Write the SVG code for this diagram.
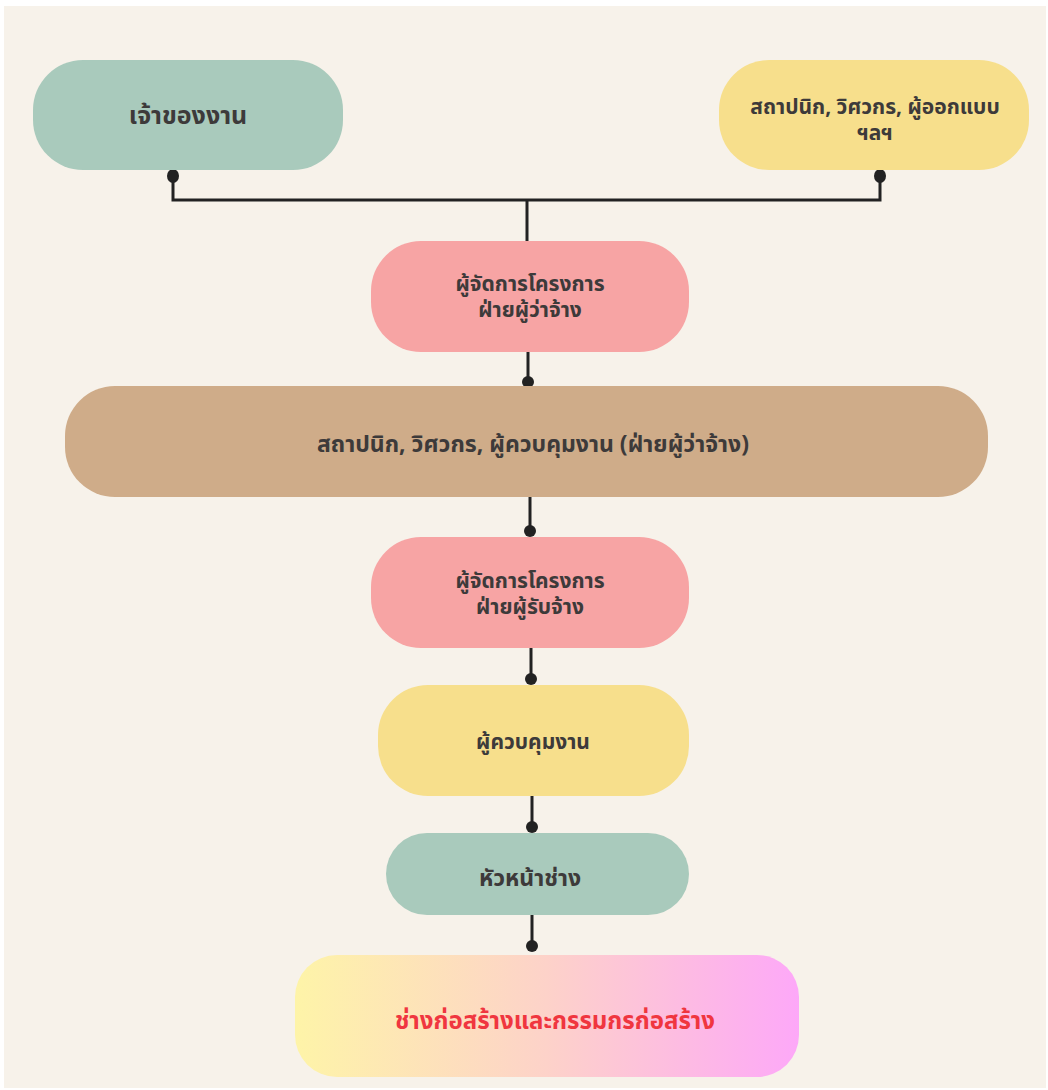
<svg xmlns="http://www.w3.org/2000/svg" width="1048" height="1090" viewBox="0 0 1048 1090">
<defs>
<style>
.t{font-family:"Noto Sans Thai","Noto Sans","DejaVu Sans",sans-serif;font-weight:bold;font-size:21px;fill:#3d3a3a;text-anchor:middle}
.c{stroke:#222;stroke-width:3;fill:none}
.d{fill:#222}
</style>
<linearGradient id="g" x1="0" y1="0" x2="1" y2="0">
<stop offset="0" stop-color="#FEF4A8"/>
<stop offset="0.5" stop-color="#FDD2C9"/>
<stop offset="1" stop-color="#FDA8F8"/>
</linearGradient>
</defs>
<rect width="1048" height="1090" fill="#fff"/>
<rect x="4" y="6" width="1042" height="1082" fill="#F7F2EA"/>
<g id="connectors">
<path class="c" d="M173,175V200H880V175M527,200V241"/>
<ellipse class="d" cx="173" cy="176" rx="6" ry="7"/>
<ellipse class="d" cx="880" cy="176" rx="6" ry="7"/>
<path class="c" d="M528,352V382"/>
<ellipse class="d" cx="528" cy="382" rx="6" ry="6"/>
<path class="c" d="M530,497V531"/>
<ellipse class="d" cx="530" cy="531" rx="6" ry="6"/>
<path class="c" d="M531,648V679"/>
<ellipse class="d" cx="531" cy="679" rx="6" ry="6"/>
<path class="c" d="M532,796V827"/>
<ellipse class="d" cx="532" cy="827" rx="6" ry="6"/>
<path class="c" d="M532,915V946"/>
<ellipse class="d" cx="532" cy="946" rx="6" ry="6"/>
</g>
<g id="n1"><rect x="33" y="60" width="310" height="110" rx="50" fill="#A9CABC"/><text class="t" x="188" y="124" style="font-size:25px">เจ้าของงาน</text></g>
<g id="n2"><rect x="719" y="60" width="310" height="110" rx="50" fill="#F7DF8C"/><text class="t" x="875" y="114">สถาปนิก, วิศวกร, ผู้ออกแบบ</text><text class="t" x="875" y="140">ฯลฯ</text></g>
<g id="n3"><rect x="371" y="241" width="318" height="111" rx="50" fill="#F7A4A4"/><text class="t" x="530" y="291">ผู้จัดการโครงการ</text><text class="t" x="530" y="317">ฝ่ายผู้ว่าจ้าง</text></g>
<g id="n4"><rect x="65" y="386" width="923" height="111" rx="50" fill="#CFAC89"/><text class="t" x="533" y="452" style="font-size:23px">สถาปนิก, วิศวกร, ผู้ควบคุมงาน (ฝ่ายผู้ว่าจ้าง)</text></g>
<g id="n5"><rect x="371" y="537" width="318" height="111" rx="50" fill="#F7A4A4"/><text class="t" x="530" y="588">ผู้จัดการโครงการ</text><text class="t" x="530" y="614">ฝ่ายผู้รับจ้าง</text></g>
<g id="n6"><rect x="378" y="685" width="311" height="111" rx="50" fill="#F7DF8C"/><text class="t" x="533" y="749">ผู้ควบคุมงาน</text></g>
<g id="n7"><rect x="386" y="833" width="303" height="82" rx="41" fill="#A9CABC"/><text class="t" x="530" y="886" style="font-size:23px">หัวหน้าช่าง</text></g>
<g id="n8"><rect x="295" y="955" width="504" height="122" rx="42" fill="url(#g)"/><text class="t" x="555" y="1029" style="fill:#F0363F;font-size:24px">ช่างก่อสร้างและกรรมกรก่อสร้าง</text></g>
</svg>
